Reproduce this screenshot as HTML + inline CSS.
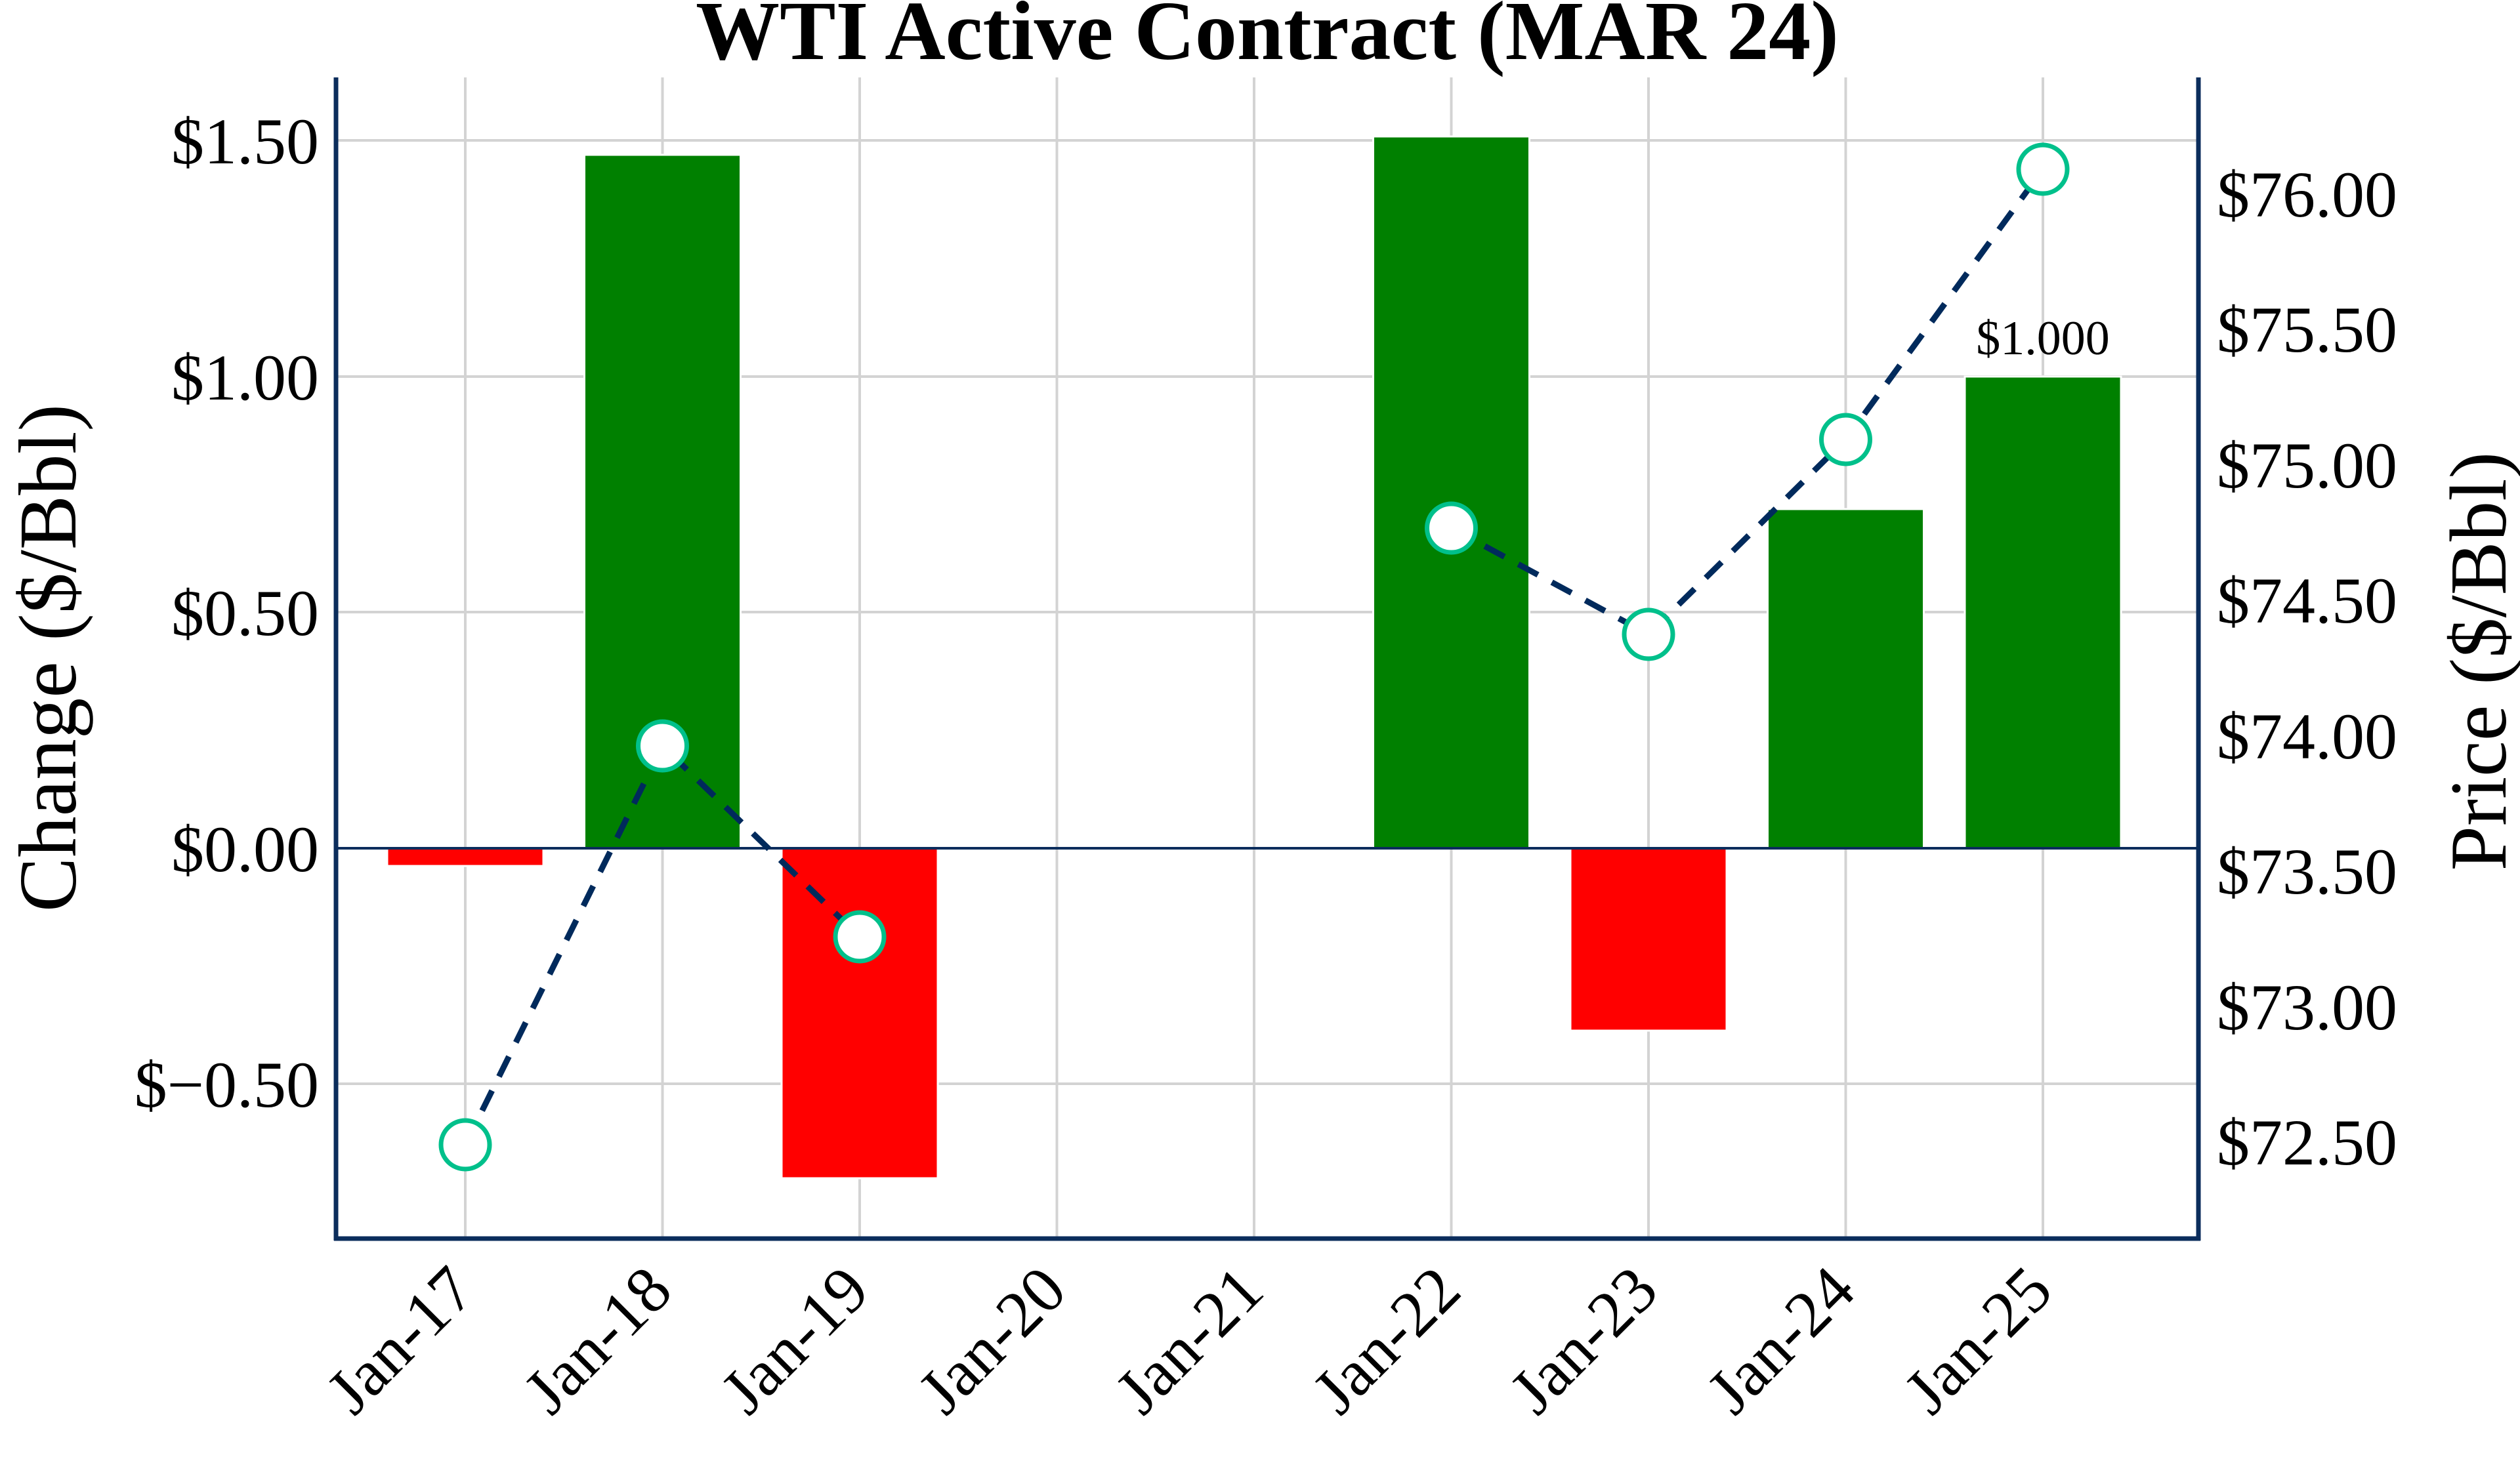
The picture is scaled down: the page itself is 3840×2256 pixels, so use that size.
<!DOCTYPE html>
<html><head><meta charset="utf-8"><style>
html,body{margin:0;padding:0;background:#fff;}
svg{display:block;}
text{font-family:"Liberation Serif",serif;fill:#000;}
</style></head><body>
<svg width="3840" height="2256" viewBox="0 0 3840 2256" xmlns="http://www.w3.org/2000/svg">
<rect width="3840" height="2256" fill="#fff"/>
<g stroke="#d3d3d3" stroke-width="4">
<line x1="512" y1="214" x2="3350" y2="214"/>
<line x1="512" y1="574" x2="3350" y2="574"/>
<line x1="512" y1="933" x2="3350" y2="933"/>
<line x1="512" y1="1652" x2="3350" y2="1652"/>
<line x1="709" y1="118" x2="709" y2="1888"/>
<line x1="1009.5" y1="118" x2="1009.5" y2="1888"/>
<line x1="1310" y1="118" x2="1310" y2="1888"/>
<line x1="1610.5" y1="118" x2="1610.5" y2="1888"/>
<line x1="1911" y1="118" x2="1911" y2="1888"/>
<line x1="2211.5" y1="118" x2="2211.5" y2="1888"/>
<line x1="2512" y1="118" x2="2512" y2="1888"/>
<line x1="2812.5" y1="118" x2="2812.5" y2="1888"/>
<line x1="3113" y1="118" x2="3113" y2="1888"/>
</g>
<g stroke="#fff" stroke-width="3">
<rect x="590" y="1293" width="238" height="27" fill="#ff0000"/>
<rect x="890.5" y="236" width="238" height="1057" fill="#008000"/>
<rect x="1191" y="1293" width="238" height="503" fill="#ff0000"/>
<rect x="2092.5" y="208" width="238" height="1085" fill="#008000"/>
<rect x="2393" y="1293" width="238" height="278" fill="#ff0000"/>
<rect x="2693.5" y="776" width="238" height="517" fill="#008000"/>
<rect x="2994" y="574" width="238" height="719" fill="#008000"/>
</g>
<line x1="512" y1="1293" x2="3350" y2="1293" stroke="#0b2d5c" stroke-width="4"/>
<text x="3113" y="540" font-size="74" text-anchor="middle">$1.000</text>
<g fill="none" stroke="#002a5c" stroke-width="9" stroke-dasharray="34,24">
<polyline points="709,1745 1009.5,1137 1310,1428"/>
<polyline points="2211.5,805 2512,967 2812.5,670 3113,258"/>
</g>
<g fill="#fff" stroke="#00c08b" stroke-width="7">
<circle cx="709" cy="1745" r="37"/>
<circle cx="1009.5" cy="1137" r="37"/>
<circle cx="1310" cy="1428" r="37"/>
<circle cx="2211.5" cy="805" r="37"/>
<circle cx="2512" cy="967" r="37"/>
<circle cx="2812.5" cy="670" r="37"/>
<circle cx="3113" cy="258" r="37"/>
</g>
<g stroke="#0b2d5c" stroke-width="7" fill="none">
<line x1="512" y1="118" x2="512" y2="1891"/>
<line x1="3350" y1="118" x2="3350" y2="1891"/>
<line x1="509" y1="1888" x2="3353" y2="1888"/>
</g>
<text x="1931" y="90" font-size="128" font-weight="bold" text-anchor="middle">WTI Active Contract (MAR 24)</text>
<g font-size="100" text-anchor="end">
<text x="486" y="249">$1.50</text>
<text x="486" y="609">$1.00</text>
<text x="486" y="968">$0.50</text>
<text x="486" y="1328">$0.00</text>
<text x="486" y="1687">$−0.50</text>
</g>
<g font-size="100">
<text x="3378" y="330">$76.00</text>
<text x="3378" y="536">$75.50</text>
<text x="3378" y="743">$75.00</text>
<text x="3378" y="949">$74.50</text>
<text x="3378" y="1156">$74.00</text>
<text x="3378" y="1362">$73.50</text>
<text x="3378" y="1569">$73.00</text>
<text x="3378" y="1775">$72.50</text>
</g>
<text transform="translate(115,1003) rotate(-90)" font-size="125" text-anchor="middle">Change ($/Bbl)</text>
<text transform="translate(3818,1008) rotate(-90)" font-size="123" text-anchor="middle">Price ($/Bbl)</text>
<g font-size="100" text-anchor="end">
<text transform="translate(728,1972) rotate(-45)">Jan-17</text>
<text transform="translate(1028.5,1972) rotate(-45)">Jan-18</text>
<text transform="translate(1329,1972) rotate(-45)">Jan-19</text>
<text transform="translate(1629.5,1972) rotate(-45)">Jan-20</text>
<text transform="translate(1930,1972) rotate(-45)">Jan-21</text>
<text transform="translate(2230.5,1972) rotate(-45)">Jan-22</text>
<text transform="translate(2531,1972) rotate(-45)">Jan-23</text>
<text transform="translate(2831.5,1972) rotate(-45)">Jan-24</text>
<text transform="translate(3132,1972) rotate(-45)">Jan-25</text>
</g>
</svg>
</body></html>
